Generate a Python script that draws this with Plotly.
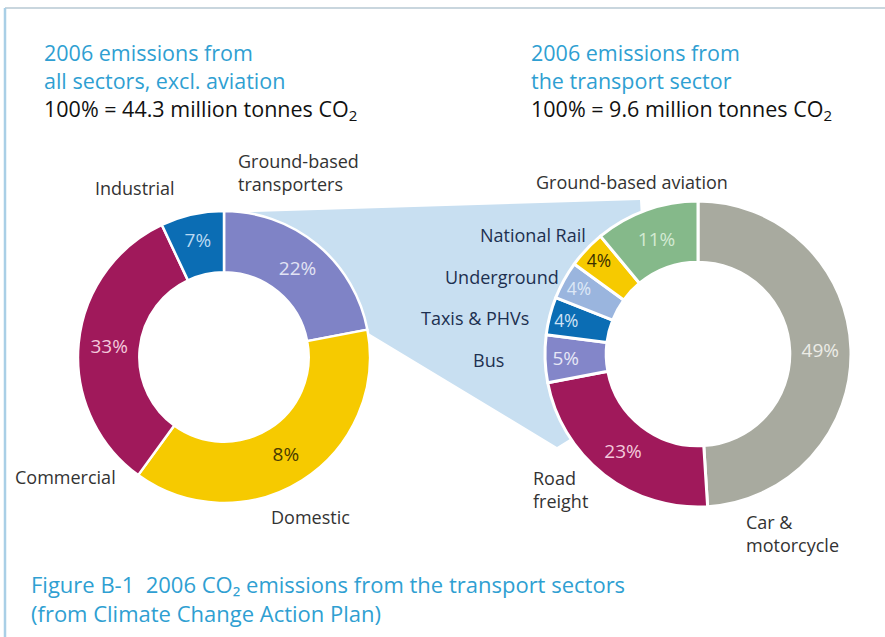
import numpy as np
import plotly.graph_objects as go

W, H = 885, 637

# ---------------- data ----------------
left_labels = ["Ground-based transporters", "Domestic", "Commercial", "Industrial"]
left_values = [22, 38, 33, 7]
left_text = ["22%", "8%", "33%", "7%"]

right_labels = ["Car & motorcycle", "Road freight", "Bus", "Taxis & PHVs",
                "Underground", "National Rail", "Ground-based aviation"]
right_values = [49, 23, 5, 4, 4, 4, 11]
right_text = ["49%", "23%", "5%", "4%", "4%", "4%", "11%"]

left_title = ["2006 emissions from", "all sectors, excl. aviation"]
left_total = "100% = 44.3 million tonnes CO<sub>2</sub>"
right_title = ["2006 emissions from", "the transport sector"]
right_total = "100% = 9.6 million tonnes CO<sub>2</sub>"
caption = ["Figure B-1  2006 CO\u2082 emissions from the transport sectors",
           "(from Climate Change Action Plan)"]

# ---------------- styles ----------------
FONT = "Open Sans"
BLUE_TXT = "#2f9fd2"
left_colors = ["#7f83c6", "#f6ca00", "#a0195b", "#0b6db4"]
left_txtcol = ["#e2e3f4", "#4a3c00", "#f3c9dc", "#b9d9f2"]
right_colors = ["#a8aa9f", "#a0195b", "#8386c9", "#0b6db4", "#9ab5de", "#f6ca00", "#85b98a"]
right_txtcol = ["#ecece6", "#f3c9dc", "#e6e7f6", "#cfe3f6", "#dde8f6", "#3a3000", "#d3ead3"]

# geometry in pixels (centre x, centre y, outer radius, hole fraction)
LC = (224, 357, 146, 0.58)
RC = (698, 354, 153, 0.60)


def dom(c):
    cx, cy, r, _ = c
    return dict(x=[(cx - r) / W, (cx + r) / W], y=[1 - (cy + r) / H, 1 - (cy - r) / H])


def P(x, y):
    return x / W, 1 - y / H


fig = go.Figure()
fig.add_trace(go.Pie(
    labels=left_labels, values=left_values, text=left_text, textinfo="text",
    textposition="inside", insidetextorientation="horizontal",
    textfont=dict(family=FONT, size=19, color=left_txtcol),
    marker=dict(colors=left_colors, line=dict(color="white", width=2.5)),
    hole=LC[3], sort=False, direction="clockwise", rotation=0,
    domain=dom(LC), showlegend=False, hoverinfo="label+value"))
fig.add_trace(go.Pie(
    labels=right_labels, values=right_values, text=right_text, textinfo="text",
    textposition="inside", insidetextorientation="horizontal",
    textfont=dict(family=FONT, size=19, color=right_txtcol),
    marker=dict(colors=right_colors, line=dict(color="white", width=3)),
    hole=RC[3], sort=False, direction="clockwise", rotation=0,
    domain=dom(RC), showlegend=False, hoverinfo="label+value"))


# ------------- connector wedge (decoration) -------------
def ring_pt(c, ang_deg, rad):
    cx, cy, _, _ = c
    a = np.deg2rad(ang_deg)
    return cx + rad * np.sin(a), cy - rad * np.cos(a)


pts = []
pts.append(ring_pt(LC, 0, LC[2] - 2))
pts.append((640, 200))
rmid = RC[2] * (1 + RC[3]) / 2
for a in np.linspace(333, 236, 40):
    pts.append(ring_pt(RC, a, rmid))
pts.append((557, 447))
pts.append(ring_pt(LC, 79, LC[2] - 4))
path = ""
for i, (x, y) in enumerate(pts):
    px_, py_ = P(x, y)
    path += ("M" if i == 0 else "L") + f"{px_:.5f},{py_:.5f} "
path += "Z"

shapes = [
    dict(type="path", xref="paper", yref="paper", path=path,
         fillcolor="#c8dff1", line=dict(width=0), layer="below"),
    dict(type="line", xref="paper", yref="paper", x0=P(5, 8)[0], y0=P(5, 8)[1],
         x1=1, y1=P(5, 8)[1], line=dict(color="#c9d6de", width=2)),
    dict(type="line", xref="paper", yref="paper", x0=P(5, 8)[0], y0=P(5, 8)[1],
         x1=P(5, 8)[0], y1=0, line=dict(color="#a9cfe6", width=2.5)),
]

ann = []


def add(text, x, y, xa="left", size=16, color="#333333", family=FONT):
    ax, ay = P(x, y)
    ann.append(dict(text=text, x=ax, y=ay, xref="paper", yref="paper",
                    xanchor=xa, yanchor="middle", showarrow=False, align=xa,
                    font=dict(family=family, size=size, color=color)))


def blue(s):
    return f"<span style='color:{BLUE_TXT}'>{s}</span>"


# titles (three lines each)
TS = 21.5
add(blue(left_title[0]) + "<br>" + blue(left_title[1]) + "<br>" + left_total,
    42, 82, size=TS, color="#111111")
add(blue(right_title[0]) + "<br>" + blue(right_title[1]) + "<br>" + right_total,
    529, 82, size=TS, color="#111111")
# caption
add(caption[0] + "<br>" + caption[1], 29, 598, size=22, color=BLUE_TXT)

# left category labels
LS = 18
add(left_labels[3], 135, 188, xa="center", size=LS)
add("Ground-based<br>transporters", 236, 172, size=LS)
add(left_labels[2], 13, 477, size=LS)
add(left_labels[1], 310, 517, xa="center", size=LS)

# right category labels
NAVY = "#1d3050"
add(right_labels[6], 632, 182, xa="center", size=LS)
add(right_labels[5], 588, 235, xa="right", size=LS, color=NAVY)
add(right_labels[4], 561, 277, xa="right", size=LS, color=NAVY)
add(right_labels[3], 531, 318, xa="right", size=LS, color=NAVY)
add(right_labels[2], 488, 360, xa="center", size=LS, color=NAVY)
add("Road<br>freight", 531, 489, size=LS)
add("Car &amp;<br>motorcycle", 744, 533, size=LS)

fig.update_layout(
    width=W, height=H, margin=dict(l=0, r=0, t=0, b=0),
    paper_bgcolor="white", plot_bgcolor="white",
    shapes=shapes, annotations=ann, font=dict(family=FONT),
)
fig.write_html("out.html", config={"displayModeBar": False},
               post_script="document.body.style.margin='0px';document.body.style.overflow='hidden';")
